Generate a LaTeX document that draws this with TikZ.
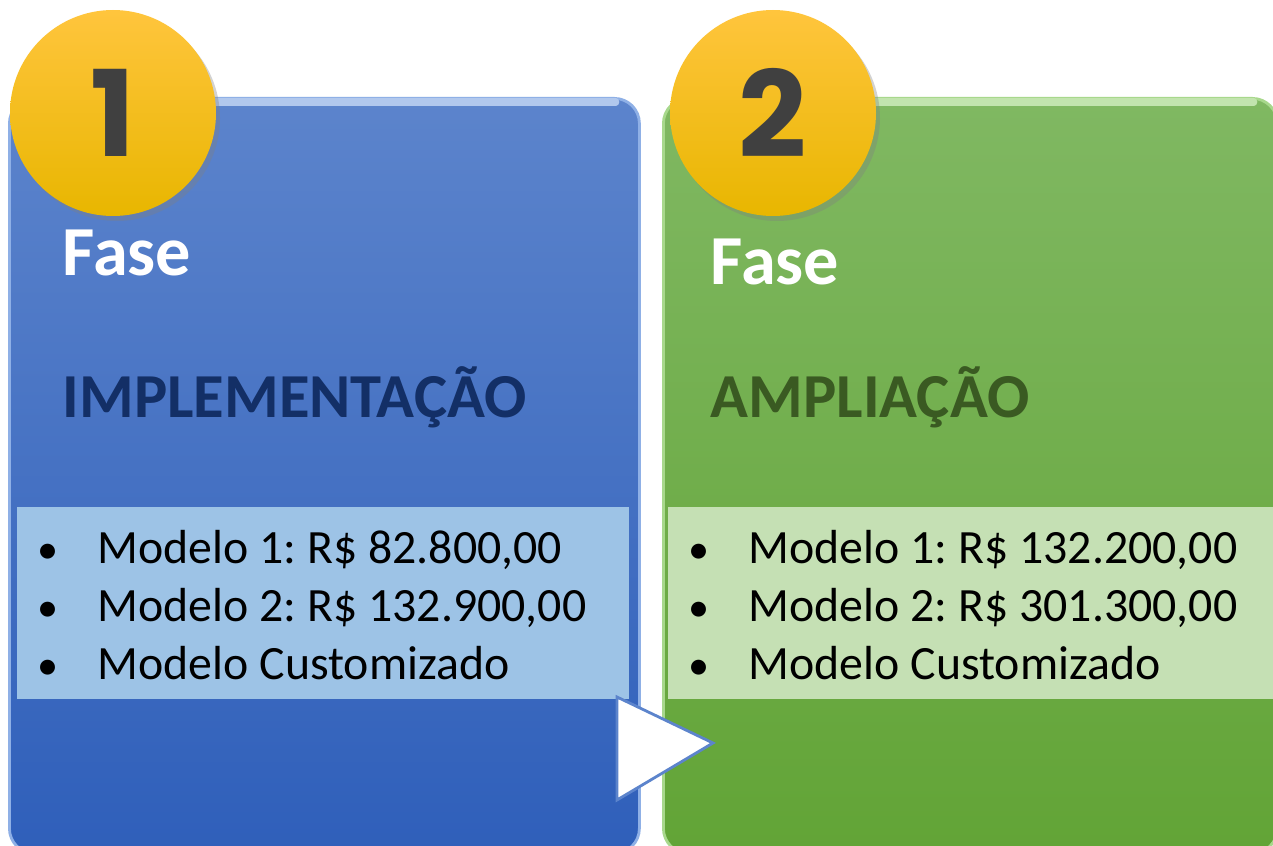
\documentclass[tikz,border=0pt]{standalone}
\usepackage{fontspec}
\setmainfont{Carlito}
\newfontfamily\numfont{Poppins}
\usetikzlibrary{positioning,shadows}
\definecolor{azulA}{HTML}{5C84CC}
\definecolor{azulB}{HTML}{2F5FBA}
\definecolor{azulC}{HTML}{8FB0E6}
\definecolor{azulclaro}{HTML}{9DC3E6}
\definecolor{azulescuro}{HTML}{132F66}
\definecolor{verdeA}{HTML}{80B862}
\definecolor{verdeB}{HTML}{62A436}
\definecolor{verdeC}{HTML}{A8D88C}
\definecolor{verdeclaro}{HTML}{C5E0B4}
\definecolor{verdeescuro}{HTML}{3A5A22}
\definecolor{ouroA}{HTML}{FFC53D}
\definecolor{ouroB}{HTML}{E8B600}
\definecolor{cinza}{HTML}{404040}
\tikzstyle{fase}=[rounded corners=0.25cm,minimum width=6.3cm,minimum height=7.55cm,anchor=north west,inner sep=0,line width=0.8pt]
\tikzstyle{numero}=[circle,minimum size=2.06cm,inner sep=0,top color=ouroA,bottom color=ouroB,drop shadow={opacity=0.35,shadow xshift=0.04cm,shadow yshift=-0.05cm},text=cinza,font=\numfont\bfseries\fontsize{34}{34}\selectfont]
\tikzstyle{titulo}=[anchor=base west,inner sep=0,text=white,font=\bfseries\fontsize{20}{24}\selectfont]
\tikzstyle{nome}=[anchor=base west,inner sep=0,font=\bfseries\fontsize{17.8}{20}\selectfont]
\tikzstyle{painel}=[anchor=north west,minimum height=1.92cm,inner sep=0]
\tikzstyle{linha}=[inner sep=0,text height=0.40cm,text depth=0.17cm,font=\frenchspacing\fontsize{13.6}{16}\selectfont]
\newcommand{\bala}{\makebox[0.57cm][l]{\hspace{-0.03cm}{\fontsize{12}{10}\selectfont\textbullet}}}

\begin{document}
\begin{tikzpicture}
\useasboundingbox (0,0) rectangle (12.73,-8.46);
\fill[white] (0,0) rectangle (12.73,-8.46);
% caixas
\node (B1) [fase,top color=azulA,bottom color=azulB,draw=azulC] at (0.08,-0.97) {};
\node (B2) [fase,top color=verdeA,bottom color=verdeB,draw=verdeC,minimum width=6.14cm] at (6.62,-0.97) {};
\draw[azulC!70!white,line width=2pt,line cap=round] ([xshift=0.25cm,yshift=-0.05cm]B1.north west) -- ([xshift=-0.25cm,yshift=-0.05cm]B1.north east);
\draw[verdeC!70!white,line width=2pt,line cap=round] ([xshift=0.25cm,yshift=-0.05cm]B2.north west) -- ([xshift=-0.25cm,yshift=-0.05cm]B2.north east);

% paineis
\node (P1) [painel,fill=azulclaro,minimum width=6.12cm] at (0.16,-5.06) {};
\node (P2) [painel,fill=verdeclaro,minimum width=6.1cm] at (6.67,-5.06) {};

% numeros
\node (N1) [numero] at (1.13,-1.13) {1};
\node (N2) [numero] at (7.73,-1.13) {2};

% textos
\node (F1) [titulo] at (0.62,-2.75) {Fase};
\node (T1) [nome,text=azulescuro] at (0.62,-4.18) {IMPLEMENTAÇÃO};
\node (F2) [titulo] at (7.10,-2.84) {Fase};
\node (T2) [nome,text=verdeescuro] at (7.10,-4.18) {AMPLIAÇÃO};

\node (L11) [linha,anchor=base west] at (0.40,-5.63) {\bala Modelo 1: R\$ 82.800,00};
\node (L12) [linha,below=0cm of L11.south west,anchor=north west] {\bala Modelo 2: R\$ 132.900,00};
\node (L13) [linha,below=0cm of L12.south west,anchor=north west] {\bala Modelo Customizado};
\node (L21) [linha,anchor=base west] at (6.91,-5.63) {\bala Modelo 1: R\$ 132.200,00};
\node (L22) [linha,below=0cm of L21.south west,anchor=north west] {\bala Modelo 2: R\$ 301.300,00};
\node (L23) [linha,below=0cm of L22.south west,anchor=north west] {\bala Modelo Customizado};

% seta
\draw[fill=white,draw=azulA,line width=0.8pt,line join=miter] (6.17,-6.97) -- (7.13,-7.43) -- (6.17,-8.00) -- cycle;
\end{tikzpicture}
\end{document}
